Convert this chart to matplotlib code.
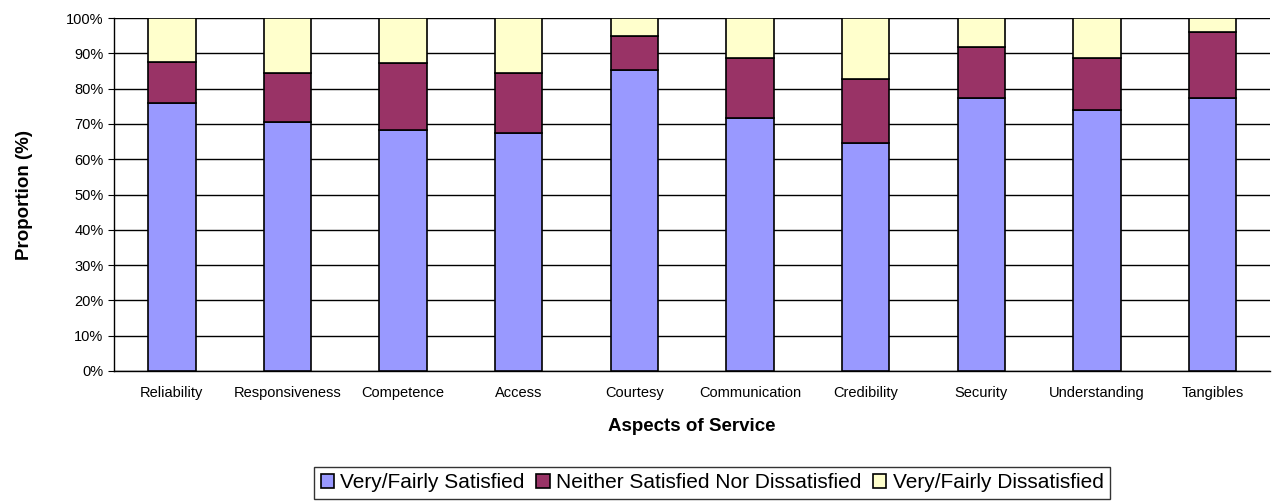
import numpy as np
import matplotlib.pyplot as plt

plt.rcParams['font.family'] = ['Liberation Sans', 'DejaVu Sans']

aspects = ['Reliability', 'Responsiveness', 'Competence', 'Access', 'Courtesy',
           'Communication', 'Credibility', 'Security', 'Understanding', 'Tangibles']
satisfied = [75.9, 70.5, 68.3, 67.4, 85.3, 71.7, 64.6, 77.3, 73.9, 77.3]
neither = [11.7, 14.0, 18.9, 17.1, 9.7, 16.9, 18.1, 14.6, 14.7, 18.8]
dissatisfied = [100 - s - n for s, n in zip(satisfied, neither)]
series_names = ['Very/Fairly Satisfied', 'Neither Satisfied Nor Dissatisfied',
                'Very/Fairly Dissatisfied']
colors = ['#9999FF', '#993366', '#FFFFCC']

fig = plt.figure(figsize=(12.75, 5.04), dpi=100)
ax = fig.add_axes([0.0894, 0.264, 0.907, 0.700])

x = np.arange(len(aspects))
bottom = np.zeros(len(aspects))
for vals, name, c in zip([satisfied, neither, dissatisfied], series_names, colors):
    ax.bar(x, vals, 0.41, bottom=bottom, color=c, edgecolor='black',
           linewidth=1.2, label=name, zorder=3)
    bottom += np.array(vals)

ax.set_xlim(-0.5, len(aspects) - 0.5)
ax.set_ylim(0, 100)
ax.set_yticks(np.arange(0, 101, 10))
ax.set_yticklabels([f'{v}%' for v in range(0, 101, 10)], fontsize=10.5)
ax.set_xticks(x)
ax.set_xticklabels(aspects, fontsize=10.5)
ax.yaxis.grid(True, color='black', linewidth=1, zorder=0)
ax.tick_params(axis='x', length=0, pad=11)
ax.tick_params(axis='y', length=4, direction='out')
for s in ['top', 'right']:
    ax.spines[s].set_visible(False)
ax.spines['left'].set_linewidth(1)
ax.spines['bottom'].set_linewidth(1)

ax.set_xlabel('Aspects of Service', fontsize=13.5, fontweight='bold', labelpad=13)
ax.set_ylabel('Proportion (%)', fontsize=13.5, fontweight='bold', labelpad=24)

leg = fig.legend(loc='center', bbox_to_anchor=(0.5585, 0.042), ncol=3,
                 fontsize=15, frameon=True, fancybox=False, edgecolor='black',
                 handlelength=0.65, handleheight=0.65, handletextpad=0.3,
                 columnspacing=0.55, borderpad=0.3, borderaxespad=0)
leg.get_frame().set_linewidth(1)

fig.savefig('out.png', dpi=100)
